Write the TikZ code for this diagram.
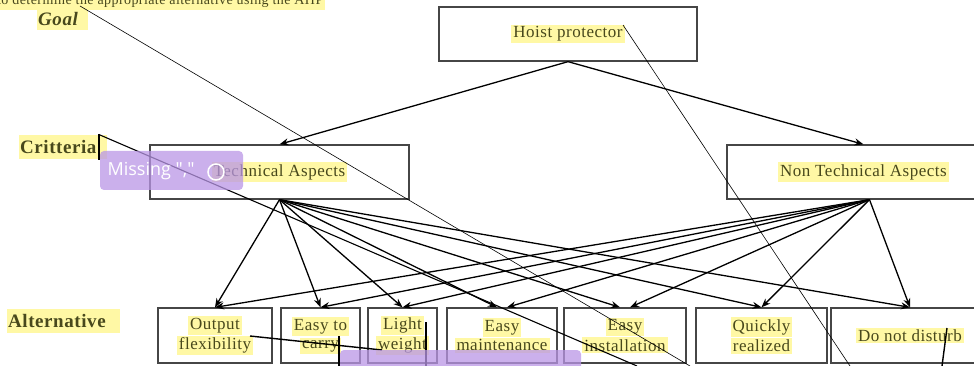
\documentclass[tikz,border=0pt]{standalone}
\usepackage{fontspec}
\setmainfont{Liberation Serif}[LetterSpace=3.0]
\newfontfamily\annfont{Open Sans}
\usetikzlibrary{arrows.meta}
\usetikzlibrary{positioning}
\definecolor{hlyellow}{RGB}{255,248,165}
\definecolor{txtolive}{RGB}{72,72,28}
\definecolor{boxgray}{RGB}{70,70,70}
\definecolor{annpurple}{RGB}{185,150,230}
\newcommand{\hlt}[1]{\colorbox{hlyellow}{#1}}
\setlength{\fboxsep}{2pt}

\begin{document}
\begin{tikzpicture}[x=1pt,y=-1pt,>={Stealth[length=9pt,width=7pt]},
	font=\fontsize{17}{18}\selectfont,text=txtolive,
	box/.style={draw=boxgray,line width=1.3pt,minimum height=54pt,inner sep=0pt,align=center},
	lvl/.style={fill=hlyellow,font=\fontsize{19}{21}\selectfont\bfseries,inner sep=1pt,anchor=west},
	link/.style={->,line width=1.3pt},
	strike/.style={line width=0.6pt}]
			\useasboundingbox (0,0) rectangle (974,366);
			% headings on the left
			\node[anchor=base west,fill=hlyellow,inner sep=2pt,font=\fontsize{14}{16}\selectfont] (intro) at (-5,5) {to determine the appropriate alternative using the AHP};
			\node[lvl,font=\fontsize{19}{21}\selectfont\bfseries\itshape,minimum height=22pt] (goal) at (37,19) {Goal\kern9pt};
			\node[lvl,minimum height=24pt] (crit) at (19,147) {Critteria\kern10pt};
			\node[lvl,minimum height=24pt] (alt) at (7,321) {Alternative\kern13pt};
			% hierarchy
			\node[box,minimum width=258pt] (hoist) at (568,34) {\hlt{Hoist protector}};
			\node[box,minimum width=259pt] (tech) at (279.5,172) {\hlt{Technical Aspects}};
			\node[box,minimum width=273pt] (nontech) at (863.5,172) {\hlt{Non Technical Aspects}};
			\node[box,minimum width=114pt,minimum height=55pt] (output) at (215,335.5) {\hlt{Output}\\\hlt{flexibility}};
			\node[box,minimum width=79pt,minimum height=55pt] (carry) at (320.5,335.5) {\hlt{Easy to}\\\hlt{carry}};
			\node[box,minimum width=69pt,minimum height=55pt] (light) at (402.5,335.5) {\hlt{Light}\\\hlt{weight}};
			\node[box,minimum width=110pt,minimum height=55pt] (maint) at (502,335.5) {\hlt{Easy}\\\hlt{maintenance}};
			\node[box,minimum width=122pt,minimum height=55pt] (install) at (625,335.5) {\hlt{Easy}\\\hlt{installation}};
			\node[box,minimum width=131pt,minimum height=55pt] (quick) at (761.5,335.5) {\hlt{Quickly}\\\hlt{realized}};
			\node[box,minimum width=158pt,minimum height=55pt] (calm) at (910,335.5) {\hlt{Do not disturb}};
			\coordinate (ntfoot) at ([xshift=6pt]nontech.south);
			\draw[link] (hoist.south) -- (tech.north);
			\draw[link] (hoist.south) -- (nontech.north);
			\draw[link] (tech.south) -- (output.north);
			\draw[link] (tech.south) -- (carry.north);
			\draw[link] (tech.south) -- (light.north);
			\draw[link] (tech.south) -- ([xshift=-5pt]maint.north);
			\draw[link] (tech.south) -- ([xshift=-5pt]install.north);
			\draw[link] (tech.south) -- (quick.north);
			\draw[link] (tech.south) -- (calm.north);
			\draw[link] (ntfoot) -- (output.north);
			\draw[link] (ntfoot) -- (carry.north);
			\draw[link] (ntfoot) -- (light.north);
			\draw[link] (ntfoot) -- ([xshift=5pt]maint.north);
			\draw[link] (ntfoot) -- ([xshift=5pt]install.north);
			\draw[link] (ntfoot) -- (quick.north);
			\draw[link] (ntfoot) -- (calm.north);
			% pen strokes over the page
			\draw[strike] (80,6) -- (690,366);
			\draw[strike] (623,25) -- (850,366);
			\draw[strike,line width=1.1pt] (100,135) -- (637,366);
			\draw[strike,line width=1.4pt] (99,134) -- (99,160);
			\draw[strike,line width=1.4pt] (250,336) -- (382,350);
			\draw[strike,line width=1.4pt] (339,336) -- (339,366);
			\draw[strike,line width=1.4pt] (426,322) -- (426,366);
			\draw[strike,line width=1.4pt] (947,328) -- (942,366);
			% checker notes
			\fill[annpurple,opacity=0.75,rounded corners=4pt] (100,151) rectangle (243,190);
			\node[anchor=west,text=white,font=\annfont\fontsize{18}{20}\selectfont] (note) at (104,171) {Missing ","};
			\draw[white,line width=1.5pt] (216,172) circle (8);
			\fill[annpurple,opacity=0.75,rounded corners=4pt] (340,350) rectangle (581,372);
			\end{tikzpicture}
\end{document}
